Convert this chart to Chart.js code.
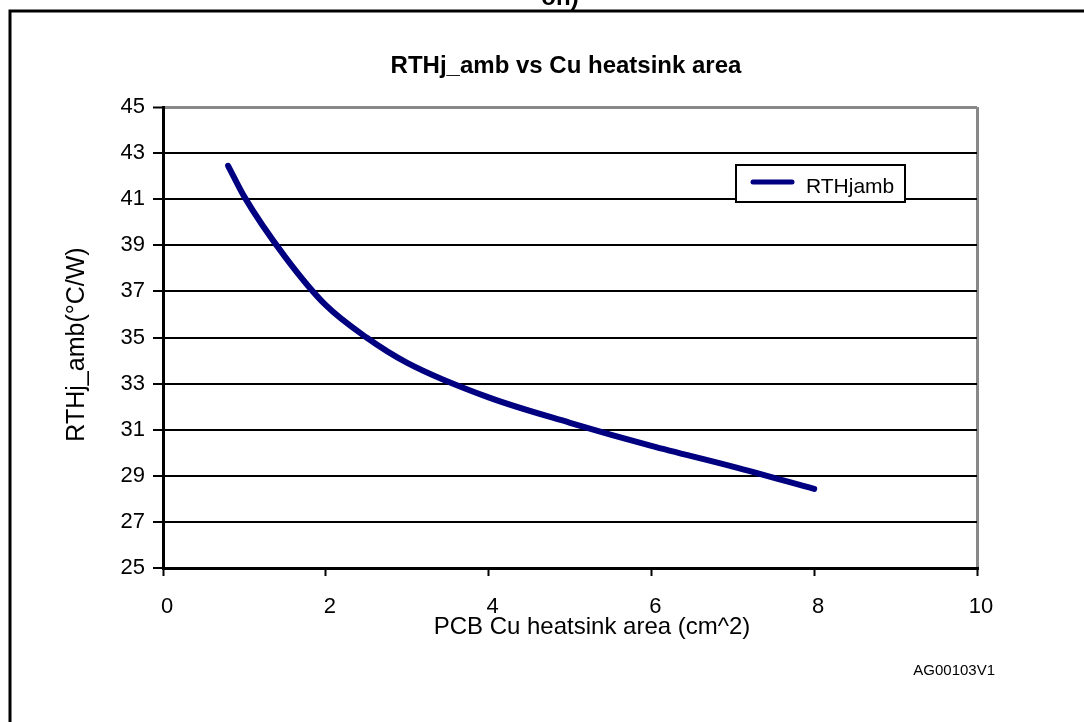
<!DOCTYPE html>
<html>
<head>
<meta charset="utf-8">
<script src="https://cdn.jsdelivr.net/npm/chart.js@4/dist/chart.umd.min.js"></script>
<style>
  body { margin: 0; background: #fff; }
  canvas { display: block; }
</style>
</head>
<body>
<canvas id="chart" width="1084" height="722"></canvas>
<script>
// values
const areaCm2 = [0.8, 1, 1.5, 2, 2.5, 3, 4, 5, 6, 7, 8];
const rthJamb = [42.45, 41.1, 38.5, 36.4, 35.0, 33.9, 32.4, 31.3, 30.3, 29.4, 28.43];
const xTicks = [0, 2, 4, 6, 8, 10];
const yTicks = [25, 27, 29, 31, 33, 35, 37, 39, 41, 43, 45];

const seriesName = 'RTHjamb';
const chartTitle = 'RTHj_amb vs Cu heatsink area';
const xTitle = 'PCB Cu heatsink area (cm^2)';
const yTitle = 'RTHj_amb(°C/W)';
const figureCode = 'AG00103V1';

const FONT = 'Arial, "Liberation Sans", sans-serif';

const decorations = {
  id: 'decorations',
  beforeDraw(chart) {
    const ctx = chart.ctx;
    ctx.save();
    ctx.fillStyle = '#fff';
    ctx.fillRect(0, 0, chart.width, chart.height);
    // page frame (only top and left visible)
    ctx.strokeStyle = '#000';
    ctx.lineWidth = 3;
    ctx.beginPath();
    ctx.moveTo(10, chart.height);
    ctx.lineTo(10, 11);
    ctx.lineTo(chart.width, 11);
    ctx.stroke();
    // cut-off caption from above
    ctx.fillStyle = '#000';
    ctx.font = 'bold 24px ' + FONT;
    ctx.textAlign = 'center';
    ctx.textBaseline = 'alphabetic';
    ctx.fillText('on)', 560, 5);
    ctx.restore();
  },
  afterDatasetsDraw(chart) {
    const ctx = chart.ctx;
    const area = chart.chartArea;
    const ds = chart.data.datasets[0];
    ctx.save();
    // legend box
    const bx = 736, by = 165, bw = 169, bh = 37;
    ctx.fillStyle = '#fff';
    ctx.fillRect(bx, by, bw, bh);
    ctx.strokeStyle = '#000';
    ctx.lineWidth = 2;
    ctx.strokeRect(bx, by, bw, bh);
    ctx.strokeStyle = ds.borderColor;
    ctx.lineWidth = 5;
    ctx.lineCap = 'round';
    ctx.beginPath();
    ctx.moveTo(bx + 17, by + 17);
    ctx.lineTo(bx + 56, by + 17);
    ctx.stroke();
    ctx.fillStyle = '#000';
    ctx.font = '21px ' + FONT;
    ctx.textAlign = 'left';
    ctx.textBaseline = 'alphabetic';
    ctx.fillText(ds.label, bx + 70, by + 28);

    // chart title
    const cx = (area.left + area.right) / 2;
    ctx.font = 'bold 24px ' + FONT;
    ctx.textAlign = 'center';
    ctx.fillText(chartTitle, cx - 4, 73);

    // x axis title
    ctx.font = '24px ' + FONT;
    ctx.fillText(xTitle, cx + 22, 634);

    // y axis title
    ctx.save();
    ctx.translate(84, (area.top + area.bottom) / 2 + 7);
    ctx.rotate(-Math.PI / 2);
    ctx.font = '25px ' + FONT;
    ctx.fillText(yTitle, 0, 0);
    ctx.restore();

    // figure code
    ctx.font = '15px ' + FONT;
    ctx.textAlign = 'right';
    ctx.fillText(figureCode, 995, 675);
    ctx.restore();
  }
};

new Chart(document.getElementById('chart'), {
  type: 'line',
  data: {
    datasets: [{
      label: seriesName,
      data: areaCm2.map((x, i) => ({ x, y: rthJamb[i] })),
      borderColor: '#000080',
      borderWidth: 6,
      borderCapStyle: 'round',
      pointRadius: 0,
      fill: false,
      cubicInterpolationMode: 'monotone',
    }],
  },
  options: {
    responsive: false,
    animation: false,
    layout: { padding: { top: 107, right: 107, bottom: 94, left: 0 } },
    plugins: {
      legend: { display: false },
      title: { display: false },
      tooltip: { enabled: false },
    },
    scales: {
      x: {
        type: 'linear',
        min: 0,
        max: 10,
        afterBuildTicks: s => { s.ticks = xTicks.map(v => ({ value: v })); },
        afterFit: s => { s.height = 60; },
        border: { color: '#000', width: 3 },
        grid: {
          color: c => (c.tick && c.tick.value === 10 ? '#888' : 'rgba(0,0,0,0)'),
          lineWidth: 3,
          tickColor: '#000',
          tickWidth: 2,
          tickLength: 8,
        },
        ticks: {
          color: '#000',
          font: { family: FONT, size: 22 },
          padding: 18,
          labelOffset: 4,
          maxRotation: 0,
        },
      },
      y: {
        min: 25,
        max: 45,
        afterBuildTicks: s => { s.ticks = yTicks.map(v => ({ value: v })); },
        afterFit: s => { s.width = 163; },
        border: { color: '#000', width: 3 },
        grid: {
          color: c => (c.tick && c.tick.value === 45 ? '#888' : '#000'),
          lineWidth: c => (c.tick && c.tick.value === 45 ? 3 : 2),
          tickColor: '#000',
          tickWidth: 2,
          tickLength: 10,
        },
        ticks: {
          color: '#000',
          font: { family: FONT, size: 22 },
          padding: 8,
        },
      },
    },
  },
  plugins: [decorations],
});
</script>
</body>
</html>
